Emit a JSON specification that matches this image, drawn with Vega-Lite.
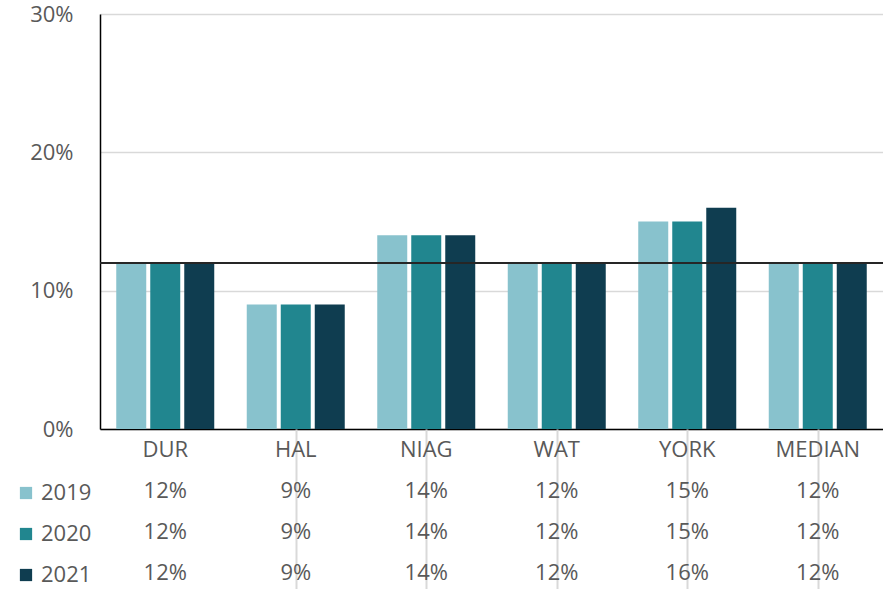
{
  "$schema": "https://vega.github.io/schema/vega-lite/v6.json",
  "padding": {"left": 15, "top": 3, "right": 0, "bottom": 0},
  "background": "white",
  "config": {"font": "Open Sans", "view": {"stroke": null}},
  "spacing": 0,
  "bounds": "flush",
  "data": {"values": [
    {"region": "DUR", "year": "2019", "value": 0.12},
    {"region": "DUR", "year": "2020", "value": 0.12},
    {"region": "DUR", "year": "2021", "value": 0.12},
    {"region": "HAL", "year": "2019", "value": 0.09},
    {"region": "HAL", "year": "2020", "value": 0.09},
    {"region": "HAL", "year": "2021", "value": 0.09},
    {"region": "NIAG", "year": "2019", "value": 0.14},
    {"region": "NIAG", "year": "2020", "value": 0.14},
    {"region": "NIAG", "year": "2021", "value": 0.14},
    {"region": "WAT", "year": "2019", "value": 0.12},
    {"region": "WAT", "year": "2020", "value": 0.12},
    {"region": "WAT", "year": "2021", "value": 0.12},
    {"region": "YORK", "year": "2019", "value": 0.15},
    {"region": "YORK", "year": "2020", "value": 0.15},
    {"region": "YORK", "year": "2021", "value": 0.16},
    {"region": "MEDIAN", "year": "2019", "value": 0.12},
    {"region": "MEDIAN", "year": "2020", "value": 0.12},
    {"region": "MEDIAN", "year": "2021", "value": 0.12}
  ]},
  "vconcat": [
    {
      "width": 783,
      "height": 415,
      "layer": [
        {
          "mark": {"type": "bar"},
          "encoding": {
            "x": {"field": "region", "type": "nominal",
              "sort": ["DUR", "HAL", "NIAG", "WAT", "YORK", "MEDIAN"],
              "scale": {"paddingInner": 0, "paddingOuter": 0},
              "axis": {"labels": false, "ticks": false, "domain": true, "domainColor": "#000000", "domainWidth": 1.5, "title": null, "grid": false}},
            "xOffset": {"field": "year", "type": "nominal",
              "scale": {"paddingInner": 0.118, "paddingOuter": 0.478}},
            "y": {"field": "value", "type": "quantitative",
              "scale": {"domain": [0, 0.3]},
              "axis": {"values": [0, 0.1, 0.2, 0.3], "format": ".0%", "title": null,
                "domainColor": "#000000", "domainWidth": 1.5, "ticks": false,
                "labelPadding": 27, "labelFontSize": 22, "labelColor": "#595959",
                "gridColor": "#d9d9d9", "gridWidth": 1.5}},
            "color": {"field": "year", "type": "nominal",
              "scale": {"domain": ["2019", "2020", "2021"], "range": ["#88C2CD", "#21868F", "#0F3D50"]},
              "legend": {"title": null, "orient": "none", "legendX": -85, "legendY": 468, "padding": 0,
                "symbolType": "square", "symbolSize": 150, "symbolStrokeWidth": 0, "symbolOpacity": 1,
                "labelFontSize": 22, "labelColor": "#595959", "labelOffset": 4, "rowPadding": 19}}
          }
        },
        {
          "mark": {"type": "rule", "color": "#262626", "strokeWidth": 2},
          "encoding": {"y": {"datum": 0.12}}
        }
      ]
    },
    {
      "width": 783,
      "height": 164,
      "layer": [
        {
          "transform": [{"filter": "datum.year === '2019'"}],
          "mark": {"type": "text", "fontSize": 22, "color": "#595959", "baseline": "middle"},
          "encoding": {
            "x": {"field": "region", "type": "nominal",
              "sort": ["DUR", "HAL", "NIAG", "WAT", "YORK", "MEDIAN"],
              "scale": {"paddingInner": 0, "paddingOuter": 0},
              "axis": {"labels": false, "ticks": false, "domain": false, "grid": true, "bandPosition": 0,
                "gridColor": {"condition": {"test": "datum.value === 'DUR'", "value": "transparent"}, "value": "#d9d9d9"},
                "gridWidth": 2, "title": null}},
            "y": {"datum": "cat", "type": "nominal",
              "scale": {"domain": ["cat", "2019", "2020", "2021"], "paddingInner": 0, "paddingOuter": 0},
              "axis": null},
            "text": {"field": "region"}
          }
        },
        {
          "mark": {"type": "text", "fontSize": 22, "color": "#595959", "baseline": "middle"},
          "encoding": {
            "x": {"field": "region", "type": "nominal",
              "sort": ["DUR", "HAL", "NIAG", "WAT", "YORK", "MEDIAN"]},
            "y": {"field": "year", "type": "nominal"},
            "text": {"field": "value", "format": ".0%"}
          }
        }
      ]
    }
  ]
}
